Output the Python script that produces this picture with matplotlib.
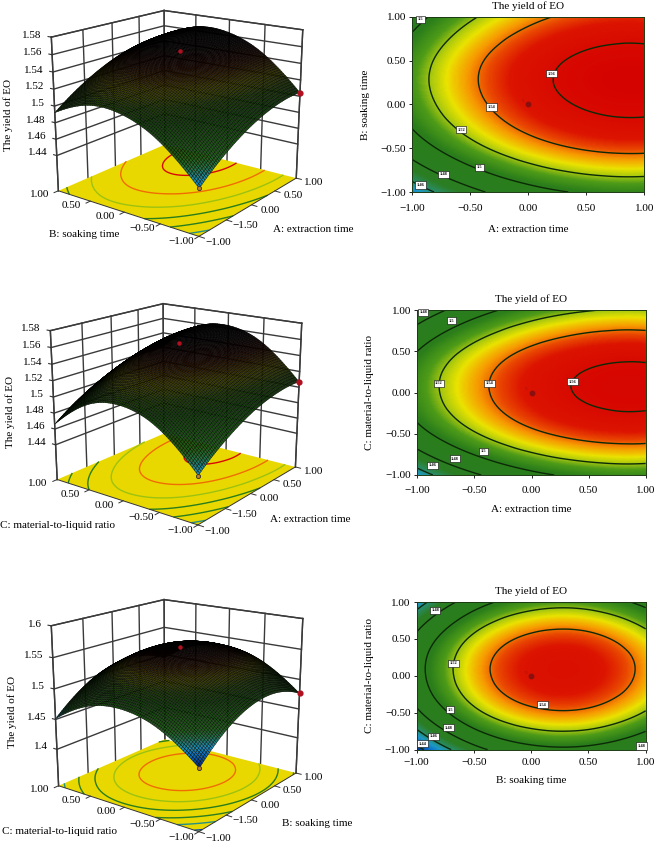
import numpy as np
import matplotlib
matplotlib.use('Agg')
import matplotlib.pyplot as plt
import matplotlib.tri as mtri
from matplotlib.colors import LinearSegmentedColormap, Normalize
from mpl_toolkits.mplot3d import proj3d

plt.rcParams['font.family'] = ['Liberation Serif', 'DejaVu Sans']

W, H = 655, 842

coded = [-1.0, -0.5, 0.0, 0.5, 1.0]

# yield of EO, rows = second factor, columns = first factor
yield_ab = [[1.4495, 1.4747, 1.4923, 1.5023, 1.5045],
            [1.4887, 1.5139, 1.5315, 1.5415, 1.5437],
            [1.5088, 1.5340, 1.5516, 1.5616, 1.5638],
            [1.5100, 1.5352, 1.5528, 1.5628, 1.5650],
            [1.4921, 1.5173, 1.5349, 1.5449, 1.5471]]
yield_ac = [[1.4520, 1.4775, 1.4952, 1.5049, 1.5068],
            [1.4930, 1.5185, 1.5362, 1.5459, 1.5478],
            [1.5090, 1.5345, 1.5522, 1.5619, 1.5638],
            [1.5000, 1.5255, 1.5432, 1.5529, 1.5548],
            [1.4660, 1.4915, 1.5092, 1.5189, 1.5208]]
yield_bc = [[1.4343, 1.4734, 1.4935, 1.4945, 1.4766],
            [1.4761, 1.5152, 1.5353, 1.5363, 1.5184],
            [1.4928, 1.5319, 1.5520, 1.5530, 1.5351],
            [1.4846, 1.5237, 1.5438, 1.5448, 1.5269],
            [1.4513, 1.4904, 1.5105, 1.5115, 1.4936]]

tick_vals = [-1.0, -0.5, 0.0, 0.5, 1.0]
tick_text = ['\u22121.00', '\u22120.50', '0.00', '0.50', '1.00']
# the right hand base axis really is printed with -1.50 in the figure
base_text_right = ['\u22121.00', '\u22121.50', '0.00', '0.50', '1.00']
base_text_left = ['\u22121.00', '\u22120.50', '0.00', '0.50', '1.00']

ticks_z1 = [1.44, 1.46, 1.48, 1.50, 1.52, 1.54, 1.56, 1.58]
ticks_z1_text = ['1.44', '1.46', '1.48', '1.5', '1.52', '1.54', '1.56', '1.58']
ticks_z3 = [1.40, 1.45, 1.50, 1.55, 1.60]
ticks_z3_text = ['1.4', '1.45', '1.5', '1.55', '1.6']

levels = [1.44, 1.46, 1.48, 1.50, 1.52, 1.54, 1.56]

labels_ab = [(-0.93, 0.97, '1.5'), (0.2, 0.35, '1.56'), (-0.32, -0.03, '1.54'),
             (-0.58, -0.29, '1.52'), (-0.42, -0.72, '1.5'), (-0.73, -0.8, '1.48'),
             (-0.93, -0.92, '1.46')]
labels_ac = [(-0.95, 0.97, '1.48'), (-0.7, 0.87, '1.5'), (-0.81, 0.11, '1.52'),
             (-0.37, 0.11, '1.54'), (0.36, 0.13, '1.56'), (-0.42, -0.71, '1.5'),
             (-0.67, -0.8, '1.48'), (-0.87, -0.88, '1.46')]
labels_bc = [(-0.84, 0.89, '1.48'), (-0.68, 0.17, '1.52'), (0.1, -0.39, '1.54'),
             (-0.71, -0.46, '1.5'), (-0.72, -0.7, '1.48'), (-0.85, -0.82, '1.46'),
             (-0.95, -0.92, '1.44'), (0.96, -0.95, '1.48')]

# response colour scale
cmap = LinearSegmentedColormap.from_list('de', [
    (0.00, '#00006e'), (0.04, '#04308f'), (0.11, '#0a6fc8'), (0.17, '#1e9ac8'), (0.24, '#2a8a5a'),
    (0.30, '#2a7d22'), (0.52, '#2a7d1a'), (0.60, '#4f9c18'), (0.65, '#a8c810'),
    (0.70, '#ece400'), (0.76, '#f79a00'), (0.81, '#ea4a00'), (0.86, '#dc1400'),
    (1.00, '#d40000')])
norm = Normalize(1.43, 1.57)


def px_axes(x0, y0, x1, y1, **kw):
    return fig.add_axes([x0 / W, 1 - y1 / H, (x1 - x0) / W, (y1 - y0) / H], **kw)


def fine_grid(table, n):
    gx, gy = np.meshgrid(coded, coded)
    tri = mtri.Triangulation(gx.ravel(), gy.ravel())
    interp = mtri.CubicTriInterpolator(tri, np.array(table).ravel(), kind='min_E')
    xi = np.linspace(-0.9999, 0.9999, n)
    X, Y = np.meshgrid(xi, xi)
    return X, Y, interp(X, Y).filled(np.nan)


def contour_panel(box, table, labels, xlabel, ylabel, tickpad, xpad, ypad, titlepad):
    ax = px_axes(*box)
    X, Y, Z = fine_grid(table, 201)
    ax.pcolormesh(X, Y, Z, cmap=cmap, norm=norm, shading='gouraud', rasterized=True)
    ax.contour(X, Y, Z, levels=levels, colors='#0c2a08', linewidths=1.0)
    for x, y, s in labels:
        ax.text(x, y, s, fontsize=3.2, ha='center', va='center', fontweight='bold',
                bbox=dict(boxstyle='square,pad=0.35', fc='white', ec='black', lw=0.4))
    ax.plot([0], [0], 'o', color='#8a1010', ms=3.2)
    ax.text(-0.045, 0.04, '5', color='#a01010', fontsize=3.5, ha='center', va='center')
    ax.set_xlim(-1, 1)
    ax.set_ylim(-1, 1)
    ax.set_xticks(tick_vals)
    ax.set_yticks(tick_vals)
    ax.set_xticklabels(tick_text, fontsize=8)
    ax.set_yticklabels(tick_text, fontsize=8)
    ax.tick_params(length=2.5, width=0.6)
    ax.tick_params(axis='x', pad=tickpad)
    ax.tick_params(axis='y', pad=2)
    ax.set_xlabel(xlabel, fontsize=8, labelpad=xpad)
    ax.set_ylabel(ylabel, fontsize=8, labelpad=ypad)
    ax.set_title('The yield of EO', fontsize=8, pad=titlepad)
    for s in ax.spines.values():
        s.set_linewidth(0.7)
        s.set_color('#1c3a14')
    return ax


def surface_panel(box, table, zfloor, ztop, zticks, ztext, sx, sy, zlabel_px, sy_px, sx_px,
                  zaspect=0.95, ax_zoom=0.948, elev=17.2, azim=-143, focal=0.52):
    ax = px_axes(*box, projection='3d', computed_zorder=False)
    ax.patch.set_alpha(0)
    ax.set_xticks([])
    ax.set_yticks([])
    ax.set_zticks([])
    ax.set_axis_off()
    ax.set_proj_type('persp', focal_length=focal)
    ax.view_init(elev=elev, azim=azim)
    ax.set_box_aspect((1.05, 1.05, zaspect), zoom=ax_zoom)
    ax.set_xlim(-1, 1)
    ax.set_ylim(-1, 1)
    ax.set_zlim(zfloor, ztop)

    # labels go through the 3d projection but stay ordinary 2d text
    def label3d(x, y, z, s, ha='center'):
        px, py, _ = proj3d.proj_transform(x, y, z, ax.get_proj())
        ax.text2D(px, py, s, transform=ax.transData, fontsize=8, ha=ha, va='center', zorder=7)

    gc = '#3a3a3a'
    # back walls
    for t in tick_vals:
        ax.plot([t, t], [1, 1], [zfloor, ztop], color=gc, lw=1.0, zorder=1)
        ax.plot([1, 1], [t, t], [zfloor, ztop], color=gc, lw=1.0, zorder=1)
    for zt in zticks + [ztop]:
        ax.plot([-1, 1], [1, 1], [zt, zt], color=gc, lw=1.0, zorder=1)
        ax.plot([1, 1], [-1, 1], [zt, zt], color=gc, lw=1.0, zorder=1)
    ax.plot([-1, -1], [1, 1], [zfloor, ztop], color=gc, lw=1.0, zorder=1)
    ax.plot([1, 1], [-1, -1], [zfloor, ztop], color=gc, lw=1.0, zorder=1)

    # floor with projected contours
    fx, fy = np.meshgrid([-1, 1], [-1, 1])
    ax.plot_surface(fx, fy, np.full_like(fx, zfloor, dtype=float), color='#e9d800',
                    shade=False, linewidth=0, zorder=2)
    X, Y, Z = fine_grid(table, 81)
    ax.contour(X, Y, Z, levels=levels, zdir='z', offset=zfloor, cmap=cmap, norm=norm,
               linewidths=1.0, zorder=3)

    # response surface: black mesh over dimmed colours
    fc = cmap(norm(Z))
    dim = np.clip((1.56 - Z) / 0.115, 0.02, 1.0)[..., None]
    fc[..., :3] = fc[..., :3] * dim
    ax.plot_surface(X, Y, Z, facecolors=fc, rstride=1, cstride=1, shade=False,
                    edgecolor='black', linewidth=0.25, zorder=4)

    # design points
    arr = np.array(table)
    ax.scatter([0], [0], [arr[2, 2] + 0.008], color='#b01020', s=5, zorder=6, depthshade=False)
    ax.scatter([1], [-1], [arr[0, 4]], color='#b01020', s=12, zorder=6, depthshade=False)
    ax.scatter([-1], [-1], [arr[0, 0]], color='#c08020', edgecolor='#303030', s=9, lw=0.6,
               zorder=6, depthshade=False)

    # box edges at the base, ticks and tick labels
    ax.plot([-1, 1], [-1, -1], [zfloor] * 2, color='#333333', lw=0.7, zorder=5)
    ax.plot([-1, -1], [-1, 1], [zfloor] * 2, color='#333333', lw=0.7, zorder=5)
    zspan = ztop - zfloor
    for t, s1, s2 in zip(tick_vals, base_text_right, base_text_left):
        ax.plot([t, t], [-1, -1.07], [zfloor] * 2, color='#333333', lw=0.7, zorder=5)
        ax.plot([-1, -1.07], [t, t], [zfloor] * 2, color='#333333', lw=0.7, zorder=5)
        label3d(t, -1.24, zfloor, s1)
        label3d(-1.3, t, zfloor + 0.03 * zspan, s2)
    for zt, s in zip(zticks, ztext):
        ax.plot([-1, -1], [1, 1.05], [zt, zt], color='#333333', lw=0.8, zorder=5)
        label3d(-1, 1.15, zt, s, ha='right')

    fig.text(zlabel_px[0] / W, 1 - zlabel_px[1] / H, 'The yield of EO', rotation=90,
             fontsize=8, ha='center', va='center')
    fig.text(sy_px[0] / W, 1 - sy_px[1] / H, sy, fontsize=8, ha='center', va='center')
    fig.text(sx_px[0] / W, 1 - sx_px[1] / H, sx, fontsize=8, ha='left', va='center')
    return ax


fig = plt.figure(figsize=(W / 100, H / 100), dpi=100)

surface_panel((-9.5, -35, 360.5, 265), yield_ab, 1.396, 1.58, ticks_z1, ticks_z1_text,
              'A: extraction time', 'B: soaking time', (8, 115), (84, 235), (273, 230))
surface_panel((-10.5, 256, 359.5, 556), yield_ac, 1.395, 1.58, ticks_z1, ticks_z1_text,
              'A: extraction time', 'C: material-to-liquid ratio', (10, 412), (58, 526), (270, 519),
              zaspect=0.92, ax_zoom=0.94)
surface_panel((-9.5, 557, 360.5, 857), yield_bc, 1.3375, 1.60, ticks_z3, ticks_z3_text,
              'B: soaking time', 'C: material-to-liquid ratio', (12, 712), (60, 831), (282, 823),
              zaspect=0.99, ax_zoom=0.959)

contour_panel((412.3, 16.7, 644.3, 192), yield_ab, labels_ab, 'A: extraction time', 'B: soaking time',
              6, 8.5, 7.3, 5.5)
contour_panel((417.3, 310, 645.7, 475), yield_ac, labels_ac, 'A: extraction time', 'C: material-to-liquid ratio',
              5.5, 7, 8, 5.5)
contour_panel((416.7, 602, 645.7, 749.7), yield_bc, labels_bc, 'B: soaking time', 'C: material-to-liquid ratio',
              3.5, 6.5, 8, 5.5)

fig.savefig('out.png', dpi=100)
